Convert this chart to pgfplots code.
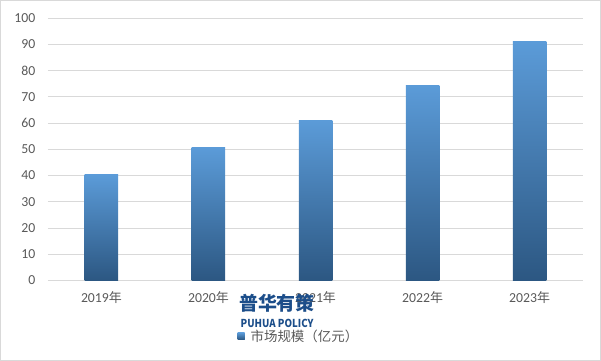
\documentclass[border=0pt]{standalone}
\usepackage{fontspec}
\setmainfont{Carlito}
\newfontfamily\cjk{Noto Sans CJK SC}
\usepackage{pgfplots}
\pgfplotsset{compat=1.18}
\definecolor{gridc}{HTML}{D9D9D9}
\definecolor{tickc}{HTML}{595959}
\definecolor{bartop}{HTML}{5B9BD8}
\definecolor{barbot}{HTML}{2C5782}
\definecolor{wm}{HTML}{1C4E8A}
\begin{document}
\begin{tikzpicture}[x=1bp,y=1bp]
\draw[gridc,line width=0.8bp] (0.5,0.5) rectangle (600.5,360.5);
\begin{axis}[
  at={(48bp,80.5bp)}, anchor=south west,
  scale only axis, width=535bp, height=262.2bp,
  xmin=-0.5, xmax=4.5, ymin=0, ymax=100,
  ytick={0,10,...,100},
  xtick={0,1,2,3,4},
  xticklabels={{2019{\cjk\fontsize{13}{15}\selectfont 年}},{2020{\cjk\fontsize{13}{15}\selectfont 年}},{2021{\cjk\fontsize{13}{15}\selectfont 年}},{2022{\cjk\fontsize{13}{15}\selectfont 年}},{2023{\cjk\fontsize{13}{15}\selectfont 年}}},
  ymajorgrids, grid style={gridc,line width=0.8bp},
  axis x line*=bottom, axis y line*=left,
  x axis line style={draw=gridc,line width=0.8bp,-},
  y axis line style={draw=none},
  major tick length=0pt,
  tick label style={font=\fontsize{13.8}{16}\selectfont, text=tickc},
  /pgf/number format/assume math mode=true,
  yticklabel style={xshift=-9bp},
  xticklabel style={yshift=-8bp},
  ybar, bar width=33.5bp, bar shift=0pt,
  legend style={at={(0.469,-0.212)}, anchor=center, draw=none, fill=none,
    font=\fontsize{13.5}{15}\selectfont\cjk, text=tickc},
  legend image code/.code={\fill[bartop!70!barbot] (0bp,-3.5bp) rectangle (7bp,3.5bp);\path (0bp,0bp) -- (11bp,0bp);},
]
\addplot[draw=none, top color=bartop, bottom color=barbot] coordinates {(0,40.3)};
\addlegendentry{市场规模（亿元）}
\addplot[draw=none, top color=bartop, bottom color=barbot, forget plot] coordinates {(1,50.6)};
\addplot[draw=none, top color=bartop, bottom color=barbot, forget plot] coordinates {(2,60.9)};
\addplot[draw=none, top color=bartop, bottom color=barbot, forget plot] coordinates {(3,74.2)};
\addplot[draw=none, top color=bartop, bottom color=barbot, forget plot] coordinates {(4,91.0)};
\end{axis}
\node[text=wm, font=\fontsize{19}{21}\selectfont\cjk\bfseries] at (277bp,58bp) {普华有策};
\node[text=wm, font=\fontsize{11}{13}\selectfont\cjk\bfseries] at (277bp,38bp) {\scalebox{0.88}[1]{PUHUA POLICY}};
\end{tikzpicture}
\end{document}
